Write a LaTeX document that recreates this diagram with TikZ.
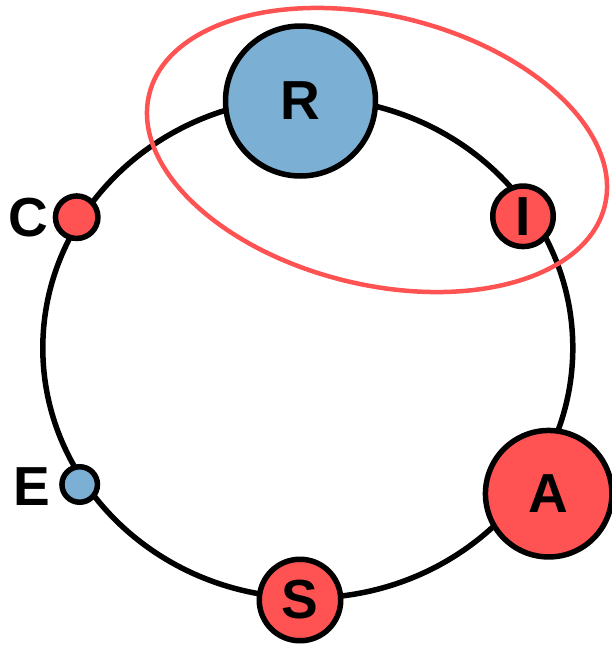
\documentclass[tikz,border=0pt]{standalone}
\usepackage{fontspec}
\setmainfont{Liberation Sans}
\definecolor{nodered}{RGB}{255,82,82}
\definecolor{nodeblue}{RGB}{123,175,212}
\begin{document}
\begin{tikzpicture}[x=1pt,y=-1pt,
  ring/.style={line width=5.5pt, draw=black},
  member/.style={circle, draw=black, line width=5.5pt, inner sep=0pt, font=\fontsize{55}{60}\selectfont\bfseries},
  redm/.style={member, fill=nodered},
  bluem/.style={member, fill=nodeblue},
  lab/.style={font=\fontsize{55}{60}\selectfont\bfseries, inner sep=0pt},
  group/.style={draw=nodered, line width=4.5pt}]
\useasboundingbox (0,0) rectangle (611,648);
\draw[ring] (307.8,348) ellipse [x radius=265, y radius=250];
\node[bluem, minimum size=150pt] (R) at (300.5,101) {R};
\node[redm, minimum size=60.5pt] (I) at (523,216.3) {I};
\node[redm, minimum size=126.5pt] (A) at (548.7,493.7) {A};
\node[redm, minimum size=81.5pt] (S) at (300,600) {S};
\node[redm, minimum size=42.5pt] (C) at (76.7,217.2) {};
\node[bluem, minimum size=35.5pt] (E) at (79.7,484.5) {};
\node[lab] (Cl) at (28.3,217.5) {C};
\node[lab] (El) at (31.7,487) {E};
\draw[group, rotate around={-13.75:(377,150)}] (377,150) ellipse [x radius=234.5, y radius=134.5];
\end{tikzpicture}
\end{document}
